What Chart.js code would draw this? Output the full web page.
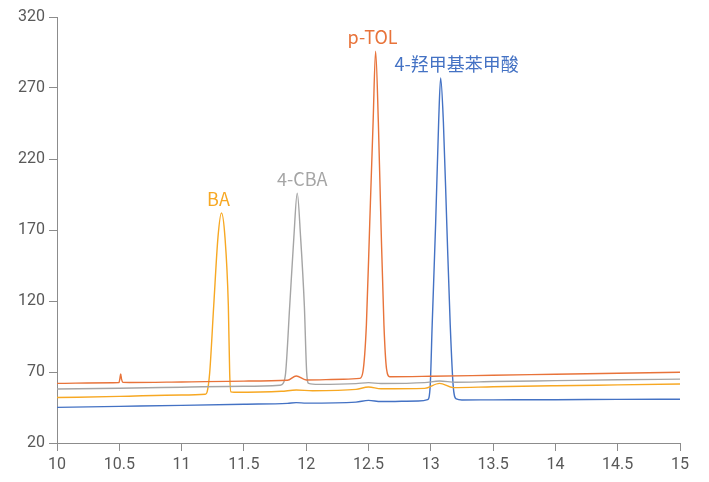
<!DOCTYPE html>
<html>
<head>
<meta charset="utf-8">
<script src="https://cdn.jsdelivr.net/npm/chart.js@4.4.1/dist/chart.umd.min.js"></script>
<style>
  html, body { margin: 0; padding: 0; background: #ffffff; }
  #wrap { width: 709px; height: 482px; }
</style>
</head>
<body>
<div id="wrap"><canvas id="chart" width="709" height="482"></canvas></div>
<script>
// Retention time (min) and detector signal for each compound trace
const peakNames = ['p-TOL', '4-CBA', 'BA', '4-羟甲基苯甲酸'];

const timePTOL = [10, 10.45, 10.497, 10.505, 10.511, 10.518, 10.528, 10.58, 11.0, 11.5, 11.85, 11.92, 12.0, 12.3, 12.43, 12.455, 12.483, 12.510, 12.537, 12.557, 12.579, 12.600, 12.624, 12.645, 12.67, 13.0, 13.5, 14.0, 14.5, 15];
const signalPTOL = [62.0, 62.4, 62.5, 65.5, 68.6, 65.0, 62.7, 62.6, 63.0, 63.6, 64.2, 67.2, 64.4, 64.9, 65.5, 70, 103, 175, 246, 296, 246, 175, 103, 72, 66.7, 67.0, 67.7, 68.4, 69.1, 69.8];

const timeCBA = [10, 10.5, 11.0, 11.5, 11.79, 11.815, 11.835, 11.868, 11.901, 11.928, 11.955, 11.985, 12.004, 12.02, 12.1, 12.4, 12.5, 12.6, 12.95, 13.07, 13.2, 13.5, 14, 14.5, 15];
const signalCBA = [58.0, 58.6, 59.3, 60.0, 60.7, 62, 69.5, 117, 165, 196, 165, 117, 69.5, 62, 61.3, 61.8, 62.5, 61.9, 62.5, 63.7, 62.8, 63.3, 63.9, 64.5, 65.0];

const timeBA = [10, 10.5, 11.0, 11.19, 11.205, 11.225, 11.258, 11.292, 11.320, 11.348, 11.375, 11.386, 11.396, 11.42, 11.8, 11.92, 12.05, 12.4, 12.5, 12.6, 12.95, 13.07, 13.18, 13.5, 14.0, 14.5, 15];
const signalBA = [52.0, 52.8, 53.8, 54.3, 56, 69, 117, 165, 182, 165, 117, 69, 56, 55.7, 56.4, 57.3, 56.8, 57.8, 59.4, 58.2, 58.5, 62.0, 59.0, 59.6, 60.3, 60.9, 61.5];

const timeHMBA = [10, 10.5, 11.0, 11.5, 11.85, 11.92, 12.0, 12.4, 12.5, 12.6, 12.9, 12.975, 12.995, 13.011, 13.039, 13.063, 13.079, 13.101, 13.128, 13.156, 13.18, 13.205, 13.25, 13.5, 14, 14.5, 15];
const signalHMBA = [45.1, 45.8, 46.5, 47.3, 47.9, 48.4, 48.1, 48.8, 50.0, 49.2, 49.6, 50.5, 60, 103, 175, 246, 277, 246, 175, 103, 60, 51, 50.3, 50.4, 50.5, 50.7, 50.8];

const xTicks = [10, 10.5, 11, 11.5, 12, 12.5, 13, 13.5, 14, 14.5, 15];
const yTicks = [20, 70, 120, 170, 220, 270, 320];

const pairUp = (ts, vs) => ts.map((t, i) => ({ x: t, y: vs[i] }));

const traces = [
  { name: peakNames[0], data: pairUp(timePTOL, signalPTOL), color: '#E8733A', dx: -3 },
  { name: peakNames[1], data: pairUp(timeCBA, signalCBA), color: '#A5A5A5', dx: 5 },
  { name: peakNames[2], data: pairUp(timeBA, signalBA), color: '#F7A823', dx: -3 },
  { name: peakNames[3], data: pairUp(timeHMBA, signalHMBA), color: '#4472C4', dx: 16 }
];

// Writes each compound's name just above the apex of its peak
const peakLabels = {
  id: 'peakLabels',
  afterDatasetsDraw(chart) {
    const { ctx, scales: { x, y } } = chart;
    ctx.save();
    ctx.font = '18px "Noto Sans CJK SC", "Noto Sans", sans-serif';
    ctx.textAlign = 'center';
    ctx.textBaseline = 'bottom';
    chart.data.datasets.forEach((ds, i) => {
      const apex = ds.data.reduce((a, b) => (b.y > a.y ? b : a));
      ctx.fillStyle = traces[i].color;
      ctx.fillText(ds.label, x.getPixelForValue(apex.x) + traces[i].dx, y.getPixelForValue(apex.y) - 5);
    });
    ctx.restore();
  }
};

new Chart(document.getElementById('chart'), {
  type: 'line',
  data: {
    datasets: traces.map(t => ({
      label: t.name,
      data: t.data,
      borderColor: t.color,
      backgroundColor: t.color,
      borderWidth: 1.4,
      pointRadius: 0,
      fill: false,
      cubicInterpolationMode: 'monotone'
    }))
  },
  options: {
    responsive: false,
    animation: false,
    layout: { padding: { top: 17, right: 29, left: 0, bottom: 0 } },
    plugins: {
      legend: { display: false },
      tooltip: { enabled: false }
    },
    scales: {
      x: {
        type: 'linear',
        min: 10,
        max: 15,
        afterBuildTicks: s => { s.ticks = xTicks.map(v => ({ value: v })); },
        afterFit: s => { s.height = 39; },
        border: { display: true, color: '#8C8C8C', width: 1 },
        grid: { drawOnChartArea: false, drawTicks: true, tickLength: 8, color: '#8C8C8C' },
        ticks: {
          color: '#595959',
          font: { family: 'Roboto', size: 16 },
          padding: 4,
          maxRotation: 0,
          callback: v => String(v)
        }
      },
      y: {
        min: 20,
        max: 320,
        afterBuildTicks: s => { s.ticks = yTicks.map(v => ({ value: v })); },
        afterFit: s => { s.width = 57; },
        border: { display: true, color: '#8C8C8C', width: 1 },
        grid: { drawOnChartArea: false, drawTicks: true, tickLength: 8, color: '#8C8C8C' },
        ticks: {
          color: '#595959',
          font: { family: 'Roboto', size: 16 },
          padding: 4,
          callback: v => String(v)
        }
      }
    }
  },
  plugins: [peakLabels]
});
</script>
</body>
</html>
